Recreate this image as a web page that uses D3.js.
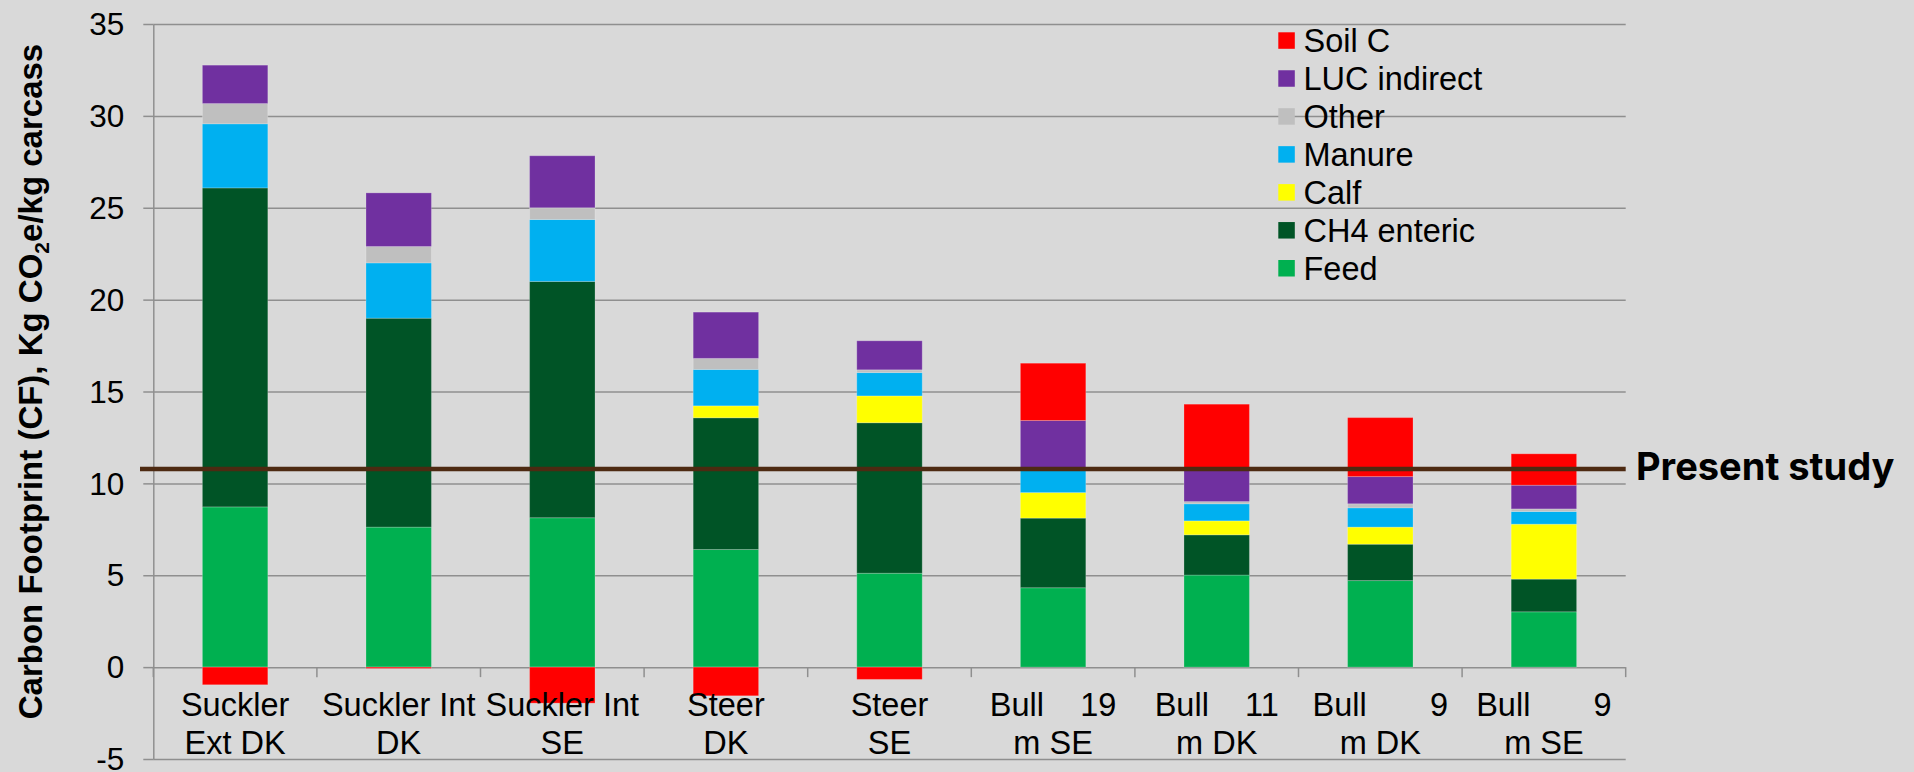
<!DOCTYPE html>
<html>
<head>
<meta charset="utf-8">
<script src="https://cdn.jsdelivr.net/npm/d3@7"></script>
<style>
  html, body { margin: 0; padding: 0; background: #d9d9d9; }
  svg { display: block; }
  text { font-family: "Liberation Sans", Arial, sans-serif; fill: #000; }
</style>
</head>
<body>
<svg id="chart" width="1914" height="772"></svg>
<script>
// Carbon footprint per kg carcass, broken down by emission source
const categoryLines = [
  ["Suckler", "Ext DK"],
  ["Suckler Int", "DK"],
  ["Suckler Int", "SE"],
  ["Steer", "DK"],
  ["Steer", "SE"],
  ["Bull    19", "m SE"],
  ["Bull    11", "m DK"],
  ["Bull       9", "m DK"],
  ["Bull       9", "m SE"]
];

const seriesNames = ["Feed", "CH4 enteric", "Calf", "Manure", "Other", "LUC indirect", "Soil C"];
const seriesColors = ["#00b050", "#005426", "#ffff00", "#00b0f0", "#bfbfbf", "#7030a0", "#ff0000"];

const feed       = [8.72, 7.62, 8.13, 6.40, 5.11, 4.32, 5.01, 4.71, 3.01];
const ch4Enteric = [17.36, 11.37, 12.86, 7.17, 8.19, 3.79, 2.19, 1.98, 1.78];
const calf       = [0, 0, 0, 0.65, 1.46, 1.39, 0.76, 0.93, 2.99];
const manure     = [3.49, 3.01, 3.37, 1.98, 1.27, 1.24, 0.93, 1.05, 0.69];
const other      = [1.10, 0.89, 0.64, 0.60, 0.15, 0, 0.12, 0.22, 0.14];
const lucIndirect= [2.09, 2.92, 2.83, 2.52, 1.58, 2.68, 1.78, 1.48, 1.29];
const soilC      = [-0.96, -0.07, -1.96, -1.56, -0.67, 3.12, 3.52, 3.21, 1.71];

const yTicks = [-5, 0, 5, 10, 15, 20, 25, 30, 35];
const presentStudy = 10.78;
const presentStudyLabel = "Present study";

const seriesValues = [feed, ch4Enteric, calf, manure, other, lucIndirect, soilC];

// table for d3.stack
const rows = categoryLines.map((c, i) => {
  const r = { idx: i };
  seriesNames.forEach((s, k) => { r[s] = seriesValues[k][i]; });
  return r;
});

const svg = d3.select("#chart");
const plot = { left: 153.3, right: 1625.7, top: 24, bottom: 759 };

const x = d3.scaleBand()
  .domain(rows.map(r => r.idx))
  .range([plot.left, plot.right])
  .paddingInner(0.6)
  .paddingOuter(0.3);

const y = d3.scaleLinear().domain([-5, 35]).range([plot.bottom, plot.top]);
const color = d3.scaleOrdinal().domain(seriesNames).range(seriesColors);

svg.append("rect").attr("width", 1914).attr("height", 772).attr("fill", "#d9d9d9");

// horizontal gridlines
const grid = svg.append("g")
  .attr("transform", `translate(${plot.left},0)`)
  .call(d3.axisLeft(y).tickValues(yTicks).tickSize(-(plot.right - plot.left)).tickFormat(""));
grid.select(".domain").remove();
grid.selectAll("line").attr("stroke", "#8f8f8f").attr("stroke-width", 1.5);

// y axis with labels
const yAxis = svg.append("g")
  .attr("transform", `translate(${plot.left},0)`)
  .call(d3.axisLeft(y).tickValues(yTicks).tickSize(10).tickPadding(19).tickSizeOuter(0)
    .tickFormat(d => String(d)));
yAxis.select(".domain").attr("stroke", "#8f8f8f").attr("stroke-width", 1.5);
yAxis.selectAll(".tick line").attr("stroke", "#8f8f8f").attr("stroke-width", 1.5);
yAxis.selectAll(".tick text")
  .style("font-family", "'Liberation Sans', Arial, sans-serif")
  .style("font-size", "31.5px")
  .attr("dy", "0.34em")
  .attr("fill", "#000");

// category axis along zero, with tick marks between categories
const step = x.step();
const boundaries = d3.range(rows.length + 1).map(i => plot.left + i * step);
const xAxis = svg.append("g");
xAxis.selectAll("line.bnd").data(boundaries).join("line")
  .attr("x1", d => d).attr("x2", d => d)
  .attr("y1", y(0)).attr("y2", y(0) + 10)
  .attr("stroke", "#8f8f8f").attr("stroke-width", 1.5);

// stacked bars (negative values go below zero)
const stack = d3.stack().keys(seriesNames).offset(d3.stackOffsetDiverging);
const layers = stack(rows);

svg.append("g").selectAll("g").data(layers).join("g")
  .attr("fill", d => color(d.key))
  .selectAll("rect")
  .data(d => d.filter(p => p[1] !== p[0]))
  .join("rect")
  .attr("x", d => x(d.data.idx))
  .attr("width", x.bandwidth())
  .attr("y", d => y(Math.max(d[0], d[1])))
  .attr("height", d => Math.abs(y(d[0]) - y(d[1])))
  .attr("stroke", "rgba(255,255,255,0.22)")
  .attr("stroke-width", 1);

// category labels
const lab = svg.append("g");
rows.forEach((r, i) => {
  const cx = x(r.idx) + x.bandwidth() / 2;
  categoryLines[i].forEach((line, j) => {
    lab.append("text")
      .attr("x", cx)
      .attr("y", 716 + j * 38)
      .attr("text-anchor", "middle")
      .style("font-size", "32.5px")
      .style("white-space", "pre")
      .text(line);
  });
});

// reference line for the present study
svg.append("line")
  .attr("x1", 140).attr("x2", plot.right)
  .attr("y1", y(presentStudy)).attr("y2", y(presentStudy))
  .attr("stroke", "#4d2a12").attr("stroke-width", 4.5);

svg.append("text")
  .attr("x", 1636)
  .attr("y", y(presentStudy) + 11)
  .style("font-family", "Inter, Lato, sans-serif")
  .style("font-weight", "700")
  .style("font-size", "38px")
  .text(presentStudyLabel);

// legend (top series first)
const legend = svg.append("g");
const legendOrder = seriesNames.slice().reverse();
legendOrder.forEach((s, i) => {
  const yy = 32.3 + i * 37.95;
  legend.append("rect")
    .attr("x", 1278.3).attr("y", yy)
    .attr("width", 16.5).attr("height", 16.5)
    .attr("fill", color(s));
  legend.append("text")
    .attr("x", 1303.5).attr("y", yy + 19.5)
    .style("font-size", "32.5px")
    .text(s);
});

// y axis title
const title = svg.append("text")
  .attr("transform", `translate(41.5,${381.5}) rotate(-90)`)
  .attr("text-anchor", "middle")
  .style("font-weight", "700")
  .style("font-size", "33px");
title.append("tspan").text("Carbon Footprint (CF), Kg CO");
title.append("tspan").attr("dy", 7).style("font-size", "21px").text("2");
title.append("tspan").attr("dy", -7).text("e/kg carcass");
</script>
</body>
</html>
